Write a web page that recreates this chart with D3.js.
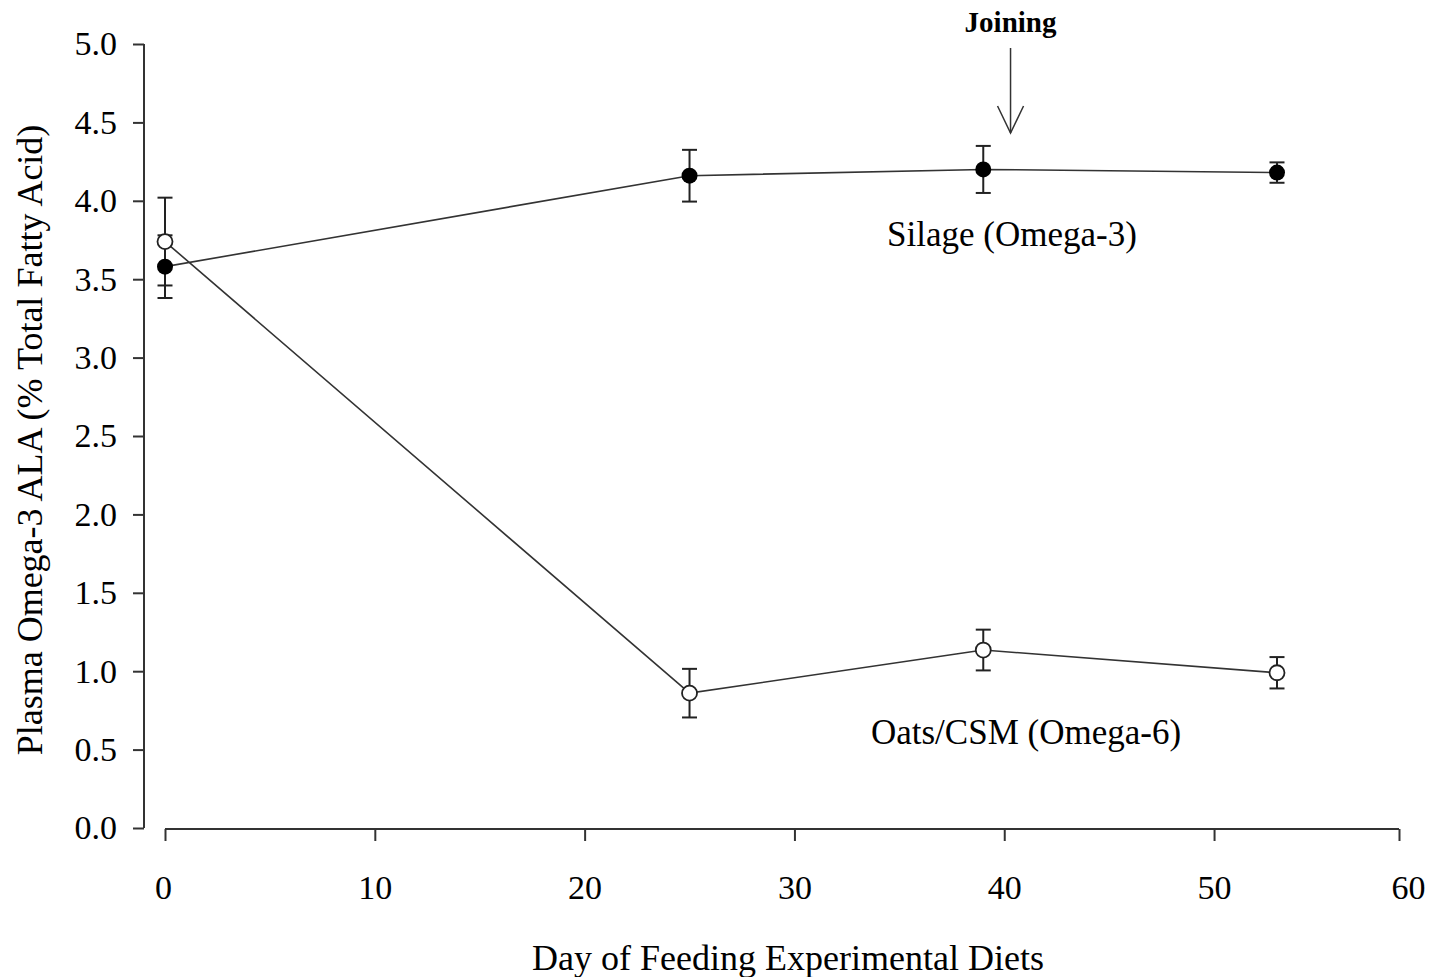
<!DOCTYPE html>
<html>
<head>
<meta charset="utf-8">
<script src="https://cdn.jsdelivr.net/npm/d3@7"></script>
<style>
  body { margin: 0; background: #fff; }
  text { font-family: "Liberation Serif", "Times New Roman", serif; fill: #000; }
</style>
</head>
<body>
<script>
// datos
const days = [0, 25, 39, 53];
const silageMean = [3.58, 4.16, 4.20, 4.18];
const silageErr = [0.20, 0.165, 0.15, 0.065];
const oatsMean = [3.74, 0.86, 1.135, 0.99];
const oatsErr = [0.28, 0.155, 0.13, 0.10];
const xTicks = [0, 10, 20, 30, 40, 50, 60];
const yTicks = [0, 0.5, 1, 1.5, 2, 2.5, 3, 3.5, 4, 4.5, 5];
const joiningDay = 40.3;

let width = 1433, height = 977;

let svg = d3.select("body").append("svg")
  .attr("width", width)
  .attr("height", height);

// escala x (la imagen original no es del todo uniforme)
let x = d3.scaleLinear().domain([0, 53, 60]).range([165, 1277, 1399]);
let y = d3.scaleLinear().domain([0, 5]).range([828, 44]);

// eje y
let yAxis = svg.append("g")
  .attr("transform", "translate(144,0)")
  .call(d3.axisLeft(y).tickValues(yTicks).tickSize(11).tickPadding(16)
    .tickFormat(d3.format(".1f")));
yAxis.select(".domain").attr("d", "M0," + y(5) + "V" + y(0));

// eje x
let xAxis = svg.append("g")
  .attr("transform", "translate(0,829)")
  .call(d3.axisBottom(x).tickValues(xTicks).tickSize(12).tickPadding(34)
    .tickFormat(d3.format("d")));
xAxis.select(".domain").attr("d", "M" + x(0) + ",0H" + x(60));
xAxis.selectAll(".tick text").attr("dx", d => d === 60 ? 9 : (d === 0 ? -2 : 0));

svg.selectAll(".domain, .tick line")
  .attr("stroke", "#333").attr("stroke-width", 2);
svg.selectAll(".tick text")
  .attr("font-size", 34)
  .attr("font-family", "Liberation Serif, Times New Roman, serif")
  .attr("fill", "#000");

// titulos de ejes
svg.append("text")
  .attr("x", 788).attr("y", 970)
  .attr("text-anchor", "middle")
  .attr("font-size", 36)
  .text("Day of Feeding Experimental Diets");

svg.append("text")
  .attr("transform", "translate(42,440) rotate(-90)")
  .attr("text-anchor", "middle")
  .attr("font-size", 36)
  .text("Plasma Omega-3 ALA (% Total Fatty Acid)");

let silage = days.map((d, i) => ({ day: d, mean: silageMean[i], err: silageErr[i] }));
let oats = days.map((d, i) => ({ day: d, mean: oatsMean[i], err: oatsErr[i] }));

let line = d3.line().x(d => x(d.day)).y(d => y(d.mean));

[silage, oats].forEach(serie => {
  svg.append("path")
    .datum(serie)
    .attr("d", line)
    .attr("fill", "none")
    .attr("stroke", "#333")
    .attr("stroke-width", 1.6);
});

// barras de error
function errorBars(serie) {
  let g = svg.append("g").attr("stroke", "#222").attr("stroke-width", 2);
  g.selectAll(".v").data(serie).enter().append("line")
    .attr("x1", d => x(d.day)).attr("x2", d => x(d.day))
    .attr("y1", d => y(d.mean - d.err)).attr("y2", d => y(d.mean + d.err));
  g.selectAll(".top").data(serie).enter().append("line")
    .attr("x1", d => x(d.day) - 7.5).attr("x2", d => x(d.day) + 7.5)
    .attr("y1", d => y(d.mean + d.err)).attr("y2", d => y(d.mean + d.err));
  g.selectAll(".bot").data(serie).enter().append("line")
    .attr("x1", d => x(d.day) - 7.5).attr("x2", d => x(d.day) + 7.5)
    .attr("y1", d => y(d.mean - d.err)).attr("y2", d => y(d.mean - d.err));
}
errorBars(silage);
errorBars(oats);

svg.selectAll(".silage").data(silage).enter().append("circle")
  .attr("cx", d => x(d.day)).attr("cy", d => y(d.mean))
  .attr("r", 8).attr("fill", "#000");

svg.selectAll(".oats").data(oats).enter().append("circle")
  .attr("cx", d => x(d.day)).attr("cy", d => y(d.mean))
  .attr("r", 7.5).attr("fill", "#fff")
  .attr("stroke", "#222").attr("stroke-width", 1.8);

// etiquetas de series
svg.append("text")
  .attr("x", 1012).attr("y", 246)
  .attr("text-anchor", "middle")
  .attr("font-size", 35)
  .text("Silage (Omega-3)");

svg.append("text")
  .attr("x", 1026).attr("y", 744)
  .attr("text-anchor", "middle")
  .attr("font-size", 35)
  .text("Oats/CSM (Omega-6)");

// anotacion Joining
let jx = x(joiningDay);
svg.append("text")
  .attr("x", jx).attr("y", 32)
  .attr("text-anchor", "middle")
  .attr("font-size", 29)
  .attr("font-weight", "bold")
  .text("Joining");

svg.append("line")
  .attr("x1", jx).attr("x2", jx)
  .attr("y1", 48).attr("y2", 133)
  .attr("stroke", "#333").attr("stroke-width", 1.5);
svg.append("path")
  .attr("d", "M" + (jx - 13) + ",106L" + jx + ",133L" + (jx + 13) + ",106")
  .attr("fill", "none")
  .attr("stroke", "#333").attr("stroke-width", 1.5);
</script>
</body>
</html>
